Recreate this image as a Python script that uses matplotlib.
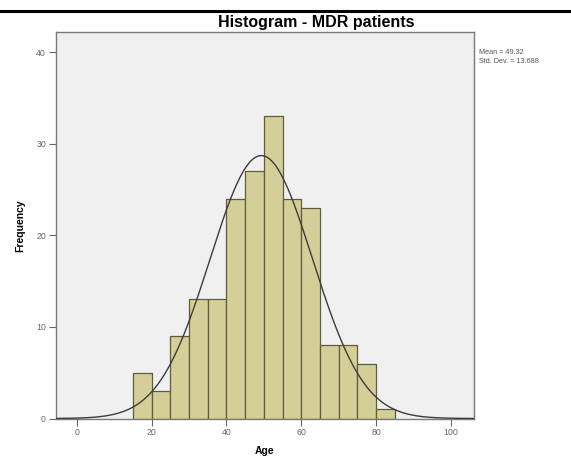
import matplotlib.pyplot as plt
import numpy as np

# bin edges (age, width 5) and counts
bin_edges = [15, 20, 25, 30, 35, 40, 45, 50, 55, 60, 65, 70, 75, 80, 85]
counts = [5, 3, 9, 13, 13, 24, 27, 33, 24, 23, 8, 8, 6, 1]
mean_age = 49.32
std_age = 13.688
x_ticks = [0, 20, 40, 60, 80, 100]
y_ticks = [0, 10, 20, 30, 40]

plt.rcParams["font.family"] = ["Liberation Sans", "DejaVu Sans"]

fig = plt.figure(figsize=(5.71, 4.57), dpi=100)
W, H = 571, 457
ax = fig.add_axes([55.7 / W, 1 - 418.5 / H, (473.5 - 55.7) / W, (418.5 - 32) / H])
ax.set_facecolor("#f0f0f0")

edges = np.array(bin_edges, dtype=float)
ax.bar(
    edges[:-1],
    counts,
    width=np.diff(edges),
    align="edge",
    color="#d4cf98",
    edgecolor="#5e5c3c",
    linewidth=0.9,
    zorder=2,
)

# fitted normal curve from the mean and std dev shown in the chart
n_total = sum(counts)
bw = edges[1] - edges[0]
xs = np.linspace(-5.6, 106, 400)
ys = n_total * bw / (std_age * np.sqrt(2 * np.pi)) * np.exp(-0.5 * ((xs - mean_age) / std_age) ** 2)
ax.plot(xs, ys, color="#3c3c3c", lw=1.0, zorder=3)

ax.set_xlim(-5.6, 106)
ax.set_ylim(0, 42.2)
ax.set_xticks(x_ticks)
ax.set_yticks(y_ticks)
ax.tick_params(labelsize=6.3, colors="#666666", length=5, width=0.8, pad=2)
for s in ax.spines.values():
    s.set_color("#7a7a7a")
    s.set_linewidth(1.0)

ax.set_xlabel("Age", fontsize=7.5, fontweight="bold", labelpad=6)
ax.set_ylabel("Frequency", fontsize=7.5, fontweight="bold", labelpad=8)

fig.text(316 / W, 1 - 23 / H, "Histogram - MDR patients", fontsize=11.5,
         fontweight="bold", ha="center", va="center")
fig.text(479 / W, 1 - 53 / H, f"Mean = {mean_age}", fontsize=5.2,
         color="#555555", ha="left", va="center")
fig.text(479 / W, 1 - 61.5 / H, f"Std. Dev. = {std_age}", fontsize=5.2,
         color="#555555", ha="left", va="center")

# black rule across the top of the image
fig.add_artist(plt.Line2D([0, 1], [1 - 11 / H, 1 - 11 / H], color="black", lw=2.2))

fig.savefig("out.png", dpi=100)
